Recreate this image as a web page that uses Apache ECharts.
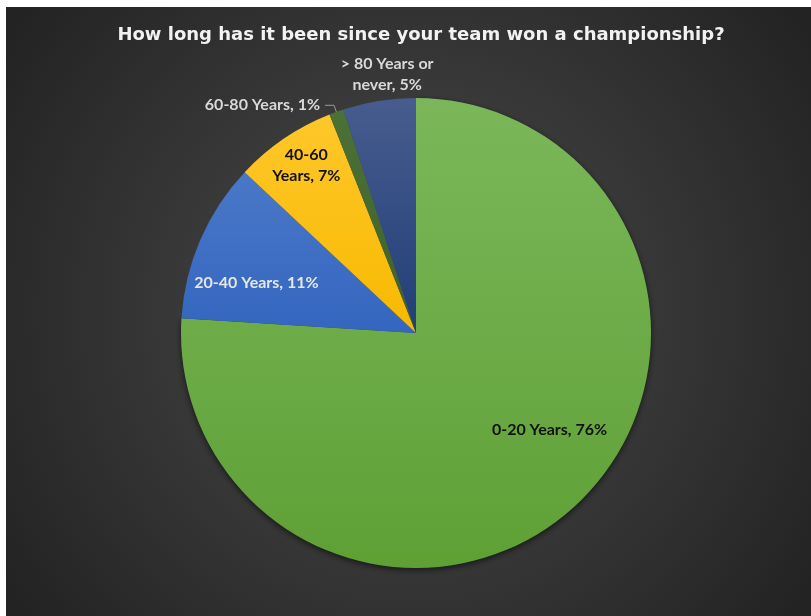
<!DOCTYPE html>
<html>
<head>
<meta charset="utf-8">
<script src="https://cdn.jsdelivr.net/npm/echarts@6/dist/echarts.min.js"></script>
<style>
  html, body { margin: 0; padding: 0; background: #ffffff; }
  #chart { position: absolute; left: 6px; top: 7px; width: 805px; height: 609px; }
</style>
</head>
<body>
<div id="chart"></div>
<script>
// Survey answers: time since the team's last championship
const categories = ['0-20 Years', '20-40 Years', '40-60 Years', '60-80 Years', '> 80 Years or never'];
const shares = [76, 11, 7, 1, 5];

// Slice fills (top, bottom of each vertical gradient)
const fillTop = ['#7bb75a', '#4a78c8', '#ffc72a', '#4b7136', '#485c8e'];
const fillBottom = ['#5fa035', '#3466bf', '#f7b900', '#3f6329', '#203f78'];
const labelColors = ['#111111', '#e6e6e6', '#111111', '#d9d9d9', '#d9d9d9'];

const chart = echarts.init(document.getElementById('chart'));

function labelText(p) {
  let name = p.name;
  if (p.dataIndex === 2) name = name.replace(' ', '\n');
  if (p.dataIndex === 4) name = name.replace(' never', '\nnever');
  return name + ', ' + p.value + '%';
}

// Label placement per slice
const labelSetup = [
  { position: 'inside', offset: [51, 9] },
  { position: 'inside', offset: [-49, -2] },
  { position: 'inside', offset: [-42, -68] },
  { position: 'outside' },
  { position: 'inside', offset: [-10, -140] }
];

const data = categories.map((name, i) => ({
  name: name,
  value: shares[i],
  itemStyle: Object.assign({
    color: {
      type: 'linear', x: 0, y: 0, x2: 0, y2: 1,
      colorStops: [{ offset: 0, color: fillTop[i] }, { offset: 1, color: fillBottom[i] }]
    }
  }, i === 0 ? { shadowBlur: 6, shadowColor: 'rgba(0,0,0,0.6)', shadowOffsetY: 2 } : {}),
  label: Object.assign({ color: labelColors[i] }, labelSetup[i]),
  labelLine: { show: i === 3 }
}));

chart.setOption({
  backgroundColor: {
    type: 'radial', x: 0.5, y: 0.5, r: 0.8,
    colorStops: [
      { offset: 0, color: '#4b4b4b' },
      { offset: 1, color: '#232323' }
    ]
  },
  title: {
    text: 'How long has it been since your team won a championship?',
    left: 410,
    textAlign: 'center',
    top: 14,
    textStyle: {
      color: '#f2f2f2',
      fontFamily: 'DejaVu Sans',
      fontWeight: 'bold',
      fontSize: 18
    }
  },
  series: [{
    type: 'pie',
    center: [410, 326],
    radius: 235,
    startAngle: 90,
    clockwise: true,
    avoidLabelOverlap: false,
    silent: true,
    animation: false,
    label: {
      fontFamily: 'Lato',
      fontWeight: 'bold',
      fontSize: 16,
      lineHeight: 21,
      align: 'center',
      formatter: labelText
    },
    labelLine: {
      length: 7,
      length2: 9,
      lineStyle: { color: '#9a9a9a', width: 1 }
    },
    data: data
  }]
});
</script>
</body>
</html>
